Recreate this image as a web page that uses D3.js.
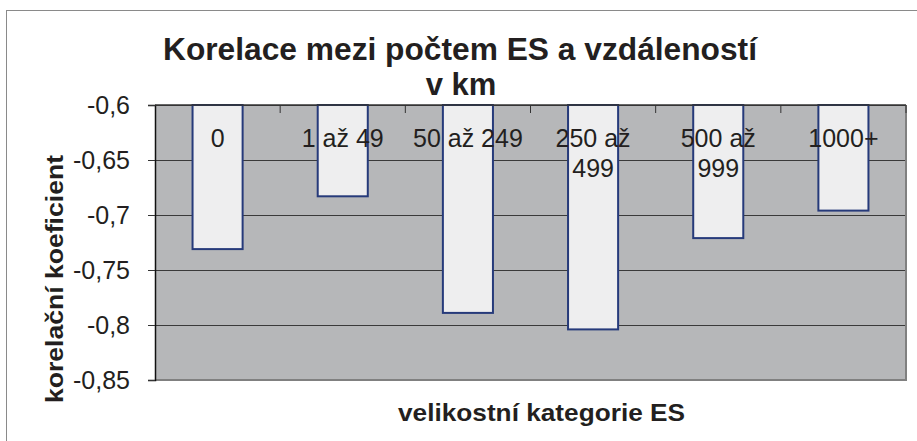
<!DOCTYPE html>
<html>
<head>
<meta charset="utf-8">
<script src="https://cdn.jsdelivr.net/npm/d3@7"></script>
<style>
  body { margin: 0; background: #fff; }
  svg { display: block; font-family: "Liberation Sans", Arial, sans-serif; }
  .tick text { fill: #231f20; }
</style>
</head>
<body>
<div id="chart"></div>
<script>
const categories = ["0", "1 až 49", "50 až 249", "250 až 499", "500 až 999", "1000+"];
const categoryLines = [["0"], ["1 až 49"], ["50 až 249"], ["250 až", "499"], ["500 až", "999"], ["1000+"]];
const values = [-0.731, -0.683, -0.789, -0.804, -0.721, -0.696];
const yTicks = [-0.6, -0.65, -0.7, -0.75, -0.8, -0.85];

const W = 917, H = 441;
const plot = { left: 155, right: 906, top: 105, bottom: 380 };

const svg = d3.select("#chart").append("svg")
  .attr("width", W)
  .attr("height", H);

// chart frame (runs past the window on the right and bottom)
svg.append("rect")
  .attr("x", 6.5).attr("y", 10.5)
  .attr("width", 940).attr("height", 460)
  .attr("fill", "#fff")
  .attr("stroke", "#8a8a8a");

const x = d3.scaleBand()
  .domain(categories)
  .range([plot.left, plot.right])
  .padding(0);

const y = d3.scaleLinear()
  .domain([-0.85, -0.6])
  .range([plot.bottom, plot.top]);

// plot area
svg.append("rect")
  .attr("x", plot.left).attr("y", plot.top)
  .attr("width", plot.right - plot.left)
  .attr("height", plot.bottom - plot.top)
  .attr("fill", "#b6b7b9");

// gridlines
svg.append("g")
  .attr("transform", `translate(${plot.left},0)`)
  .call(d3.axisLeft(y).tickValues(yTicks).tickSize(-(plot.right - plot.left)).tickFormat(""))
  .call(g => g.select(".domain").remove())
  .call(g => g.selectAll("line").attr("stroke", "#3a3a3a"));

// right / bottom border of plot area
svg.append("path")
  .attr("d", `M${plot.right},${plot.top}V${plot.bottom}H${plot.left}`)
  .attr("fill", "none")
  .attr("stroke", "#808080")
  .attr("stroke-width", 2);

// bars hang from the top (-0,6)
const bw = x.bandwidth() / 2.5;
svg.append("g")
  .selectAll("rect")
  .data(values)
  .join("rect")
  .attr("x", (d, i) => x(categories[i]) + (x.bandwidth() - bw) / 2)
  .attr("y", y(-0.6))
  .attr("width", bw)
  .attr("height", d => y(d) - y(-0.6))
  .attr("fill", "#eeeeef")
  .attr("stroke", "#263a7a")
  .attr("stroke-width", 2);

// y axis
svg.append("g")
  .attr("transform", `translate(${plot.left},0)`)
  .call(d3.axisLeft(y).tickValues(yTicks).tickSize(7).tickPadding(18)
    .tickFormat(d => String(d).replace(".", ",")))
  .call(g => g.select(".domain").attr("stroke", "#111").attr("stroke-width", 1.5))
  .call(g => g.selectAll(".tick line").attr("stroke", "#333"))
  .call(g => g.selectAll(".tick text").attr("font-size", 25).attr("font-family", "Liberation Sans, Arial, sans-serif"));

// category axis along the top
const xAxis = svg.append("g")
  .attr("transform", `translate(0,${plot.top})`);
xAxis.append("line")
  .attr("x1", plot.left).attr("x2", plot.right)
  .attr("stroke", "#333").attr("stroke-width", 1.5);
xAxis.selectAll(".sep")
  .data(categories.slice(1).concat([null]))
  .join("line")
  .attr("x1", d => d === null ? plot.right : x(d))
  .attr("x2", d => d === null ? plot.right : x(d))
  .attr("y1", 0).attr("y2", 8)
  .attr("stroke", "#333");

xAxis.selectAll(".cat")
  .data(categories)
  .join("text")
  .attr("text-anchor", "middle")
  .attr("font-size", 25)
  .attr("fill", "#231f20")
  .attr("transform", d => `translate(${x(d) + x.bandwidth() / 2},42)`)
  .each(function(d, i) {
    d3.select(this).selectAll("tspan")
      .data(categoryLines[i])
      .join("tspan")
      .attr("x", 0)
      .attr("dy", (t, j) => j === 0 ? 0 : 30)
      .text(t => t);
  });

// titles
const title = svg.append("text")
  .attr("text-anchor", "middle")
  .attr("font-weight", "bold")
  .attr("font-size", 31)
  .attr("fill", "#231f20");
title.append("tspan").attr("x", 460).attr("y", 60)
  .attr("textLength", 594).attr("lengthAdjust", "spacingAndGlyphs")
  .text("Korelace mezi počtem ES a vzdáleností");
title.append("tspan").attr("x", 461).attr("y", 95)
  .text("v km");

svg.append("text")
  .attr("x", 541.5).attr("y", 421)
  .attr("text-anchor", "middle")
  .attr("font-weight", "bold")
  .attr("font-size", 24)
  .attr("fill", "#231f20")
  .attr("textLength", 287).attr("lengthAdjust", "spacingAndGlyphs")
  .text("velikostní kategorie ES");

svg.append("text")
  .attr("transform", "translate(63,279) rotate(-90)")
  .attr("text-anchor", "middle")
  .attr("font-weight", "bold")
  .attr("font-size", 24)
  .attr("fill", "#231f20")
  .attr("textLength", 248).attr("lengthAdjust", "spacingAndGlyphs")
  .text("korelační koeficient");
</script>
</body>
</html>
